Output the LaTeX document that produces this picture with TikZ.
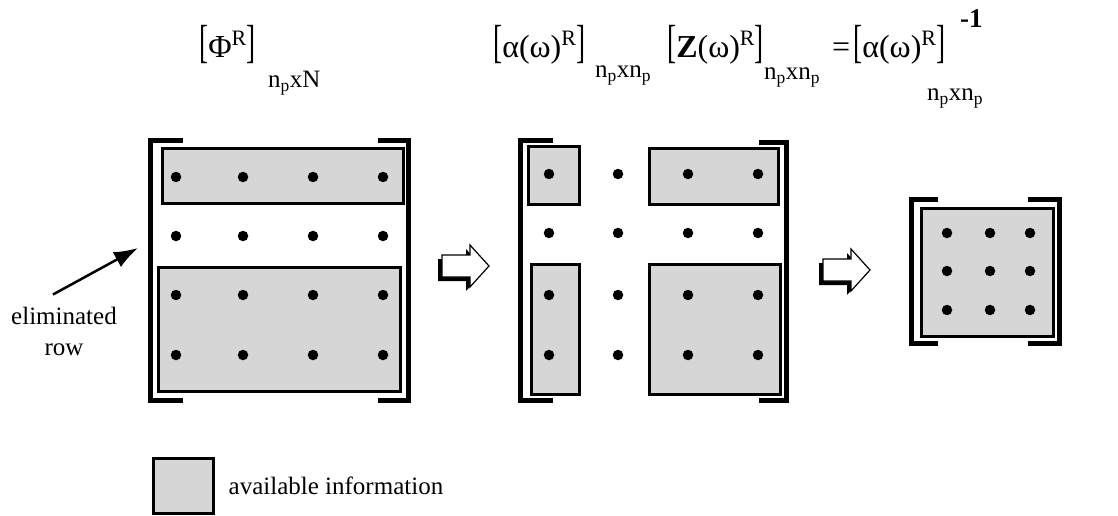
\documentclass[tikz,border=0pt]{standalone}
\usepackage{fontspec}
\setmainfont{Liberation Serif}
\usepackage{tikz}
\usetikzlibrary{arrows.meta,positioning,calc}

% shaded block of known entries
\tikzset{
  brk/.style={line width=5pt, line join=miter},
  infobox/.style={draw, line width=3pt, fill=gray!32},
  elem/.style={circle, fill=black, inner sep=0pt, minimum size=10.5pt},
  ttl/.style={inner sep=0pt, anchor=base west, font=\fontsize{32}{35}\selectfont},
  subs/.style={inner sep=0pt, anchor=base west, font=\fontsize{25}{27}\selectfont},
  lbl/.style={inner sep=0pt, font=\fontsize{25}{31}\selectfont, align=center},
  hollowarrow/.pic={
    \fill[black] (-4,-7) -- (24,-7) -- (24,-17) -- (43,4) -- (24,25) -- (24,15) -- (-4,15) -- cycle;
    \draw[line width=1.2pt, fill=white, line join=miter]
      (0,-11) -- (28,-11) -- (28,-21) -- (47,0) -- (28,21) -- (28,11) -- (0,11) -- cycle;
  }
}
\newcommand{\npx}[1]{n\textsubscript{p}x#1}
\newcommand{\tl}{\scalebox{0.85}[1.45]{[}}
\newcommand{\tr}{\scalebox{0.85}[1.45]{]}}
\newcommand{\upR}{\raisebox{0.4em}{\fontsize{22}{22}\selectfont R}}

\begin{document}
\begin{tikzpicture}[x=1pt, y=-1pt]
  \useasboundingbox (0,0) rectangle (1118,516);

  % titles
  \node[ttl] (phi) at (199,58) {\tl Φ\upR\tr};
  \node[subs] (phisub) at (268,88) {\npx{N}};
  \node[ttl] (alpha) at (493,58) {\tl α(ω)\upR\tr};
  \node[subs] (alphasub) at (595,78) {\npx{n\textsubscript{p}}};
  \node[ttl] (zed) at (667,58) {\tl\textbf{Z}(ω)\upR\tr};
  \node[subs] (zedsub) at (764,80) {\npx{n\textsubscript{p}}};
  \node[ttl] (eq) at (832,58) {=};
  \node[ttl] (alinv) at (853,58) {\tl α(ω)\upR\tr};
  \node[subs, font=\fontsize{27}{27}\selectfont] (alinvexp) at (960,28) {\textbf{-1}};
  \node[subs] (alinvsub) at (927,101) {\npx{n\textsubscript{p}}};

  % mode shape matrix with one row dropped
  \draw[infobox] (162,148) rectangle (403,203);
  \draw[infobox] (158,267) rectangle (400,391);
  \draw[brk] (183,140) -| (150,400) -- (183,400);
  \draw[brk] (378,140) -| (408,400) -- (378,400);
  \foreach \x [count=\i] in {176,243,313,383}
    \foreach \y [count=\j] in {177,236,295,355}
      \node[elem] (p-\j-\i) at (\x,\y) {};

  % reduced matrix
  \draw[infobox] (528,146) rectangle (579,204);
  \draw[infobox] (649,148) rectangle (778,204);
  \draw[infobox] (531,264) rectangle (579,394);
  \draw[infobox] (649,264) rectangle (780,394);
  \draw[brk] (553,140) -| (520,400) -- (553,400);
  \draw[brk] (759,142) -| (786,400) -- (759,400);
  \foreach \x [count=\i] in {549,618,688,758}
    \foreach \y [count=\j] in {174,233,295,355}
      \node[elem] (a-\j-\i) at (\x,\y) {};

  % inverse
  \draw[infobox] (921,208) rectangle (1053,336);
  \draw[brk] (938,199) -| (911,343) -- (938,343);
  \draw[brk] (1028,199) -| (1059,343) -- (1028,343);
  \foreach \x [count=\i] in {947,990,1030}
    \foreach \y [count=\j] in {233,271,310}
      \node[elem] (z-\j-\i) at (\x,\y) {};

  % steps
  \pic at (442,266) {hollowarrow};
  \pic at (823,270) {hollowarrow};

  % dropped row
  \node[lbl] (elim) at (64,331) {eliminated\\row};
  \coordinate (elimtip) at (138,248);
  \draw[line width=2.5pt, -{Latex[length=24pt, width=17pt]}] ($(elim.north)+(-11,-12)$) -- (elimtip);

  % legend
  \node[infobox, minimum width=60pt, minimum height=55pt, inner sep=0pt] (legbox) at (183,486) {};
  \node[lbl, right=14pt of legbox] (legtext) {available information};
\end{tikzpicture}
\end{document}
